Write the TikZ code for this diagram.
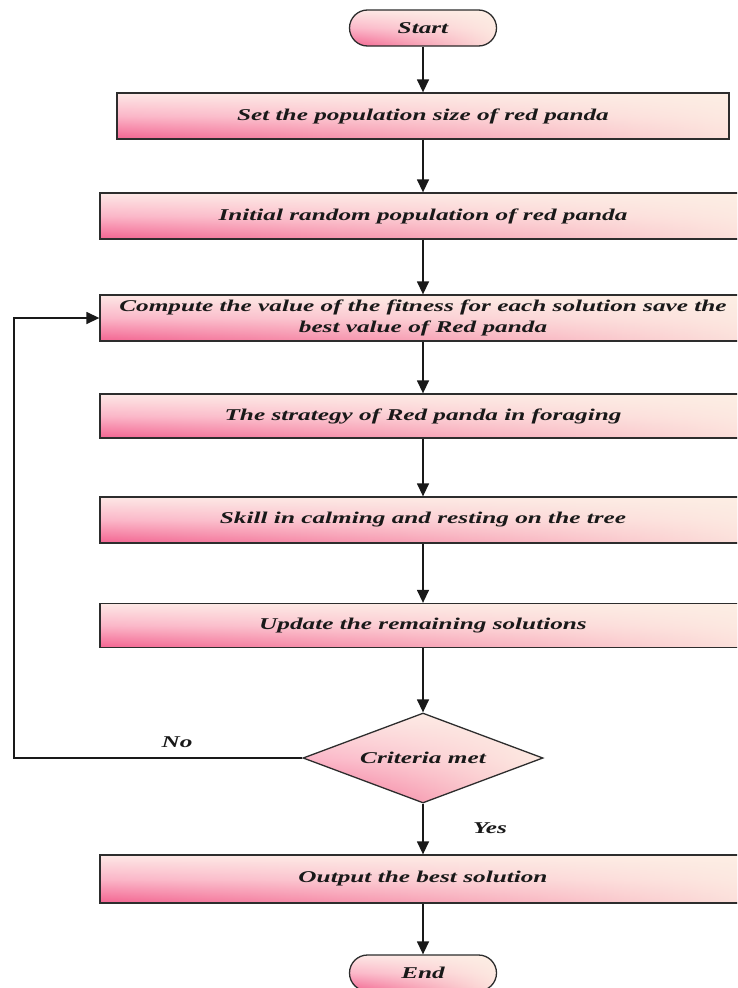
\documentclass[tikz,border=0pt]{standalone}
\usepackage{fontspec}
\setmainfont{Liberation Serif}[FakeStretch=1.53]
\usetikzlibrary{arrows.meta,shapes.geometric,fadings}
\definecolor{pinkdeep}{RGB}{243,100,145}
\definecolor{pinklight}{RGB}{251,182,200}
\definecolor{paletop}{RGB}{253,232,230}
\definecolor{cream}{RGB}{253,239,228}
\definecolor{edgegray}{RGB}{45,45,45}
\begin{document}
\begin{tikzpicture}[x=1pt,y=-1pt,
  base/.style={draw=edgegray, line width=1.3pt, top color=paletop, bottom color=pinkdeep, middle color=pinklight,
    path picture={\fill[cream, fill opacity=0.9, path fading=west]
      (path picture bounding box.south west) rectangle (path picture bounding box.north east);},
    font=\fontsize{16.5}{21}\selectfont\bfseries\itshape, text=black!90, inner sep=0pt, align=center},
  procbox/.style={base, rectangle, minimum width=646pt, minimum height=46pt},
  termbox/.style={base, rectangle, rounded corners=18pt, minimum width=147pt, minimum height=36pt},
  decbox/.style={base, diamond, aspect=2.667, minimum width=240pt, minimum height=90pt},
  flow/.style={line width=1.4pt, draw=black!90, -{Triangle[length=13pt,width=12pt]}},
  lab/.style={font=\fontsize{16.5}{20}\selectfont\bfseries\itshape, text=black!90, inner sep=0pt}
]
\useasboundingbox (0,0) rectangle (737,988);
\clip (0,0) rectangle (737,988);
\fill[white] (0,0) rectangle (737,988);

\node[termbox] (start) at (423,28) {Start};
\node[procbox, minimum width=612pt] (b1) at (423,116) {Set the population size of red panda};
\node[procbox] (b2) at (423,216) {Initial random population of red panda};
\node[procbox] (b3) at (423,318) {Compute the value of the fitness for each solution save the\\best value of Red panda};
\node[procbox, minimum height=44pt] (b4) at (423,416) {The strategy of Red panda in foraging};
\node[procbox] (b5) at (423,520) {Skill in calming and resting on the tree};
\node[procbox, minimum height=44pt] (b6) at (423,625.5) {Update the remaining solutions};
\node[decbox] (dec) at (423,758) {Criteria met};
\node[procbox, minimum height=48pt] (b7) at (423,879) {Output the best solution};
\node[termbox] (end) at (423,973) {End};

\node[lab] (no) at (177,742) {No};
\node[lab] (yes) at (490,828) {Yes};

\draw[flow] (start.south) -- (b1.north);
\draw[flow] (b1.south) -- (b2.north);
\draw[flow] (b2.south) -- (b3.north);
\draw[flow] (b3.south) -- (b4.north);
\draw[flow] (b4.south) -- (b5.north);
\draw[flow] (b5.south) -- (b6.north);
\draw[flow] (b6.south) -- (dec.north);
\draw[flow] (dec.south) -- (b7.north);
\draw[flow] (b7.south) -- (end.north);

\coordinate (lp) at (14,758);
\draw[flow] (dec.west) -- (lp) |- (b3.west);
\end{tikzpicture}
\end{document}
